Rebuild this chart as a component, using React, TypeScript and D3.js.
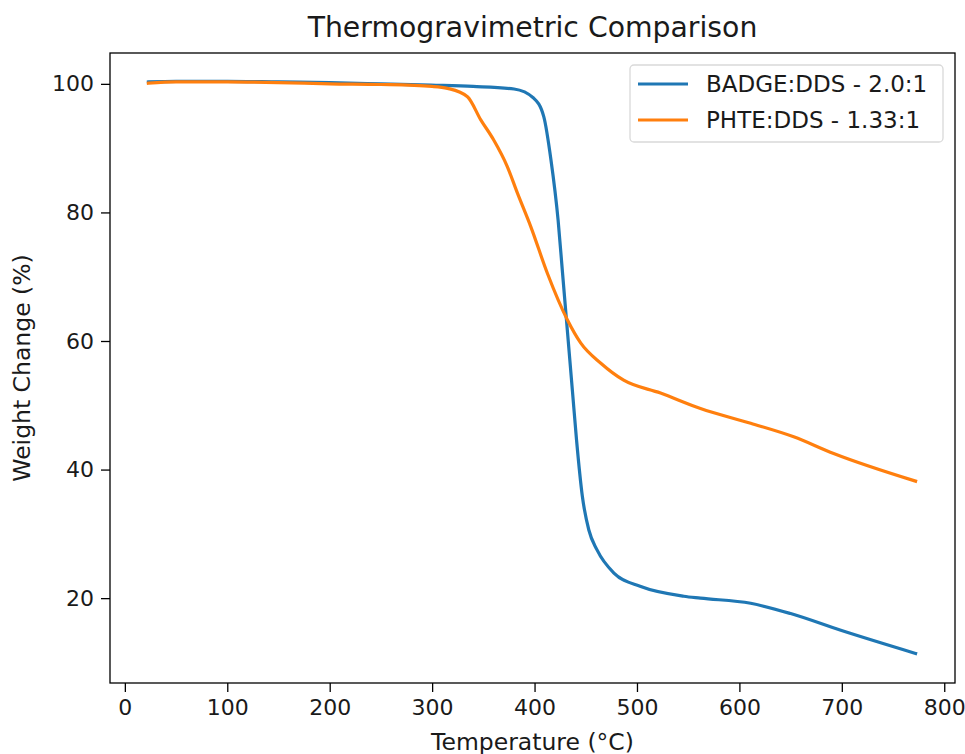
import React, { useRef, useEffect } from "react";
import * as d3 from "d3";

// temperatures (°C) and weight change (%)
const badgeTemp = [23, 50, 100, 150, 200, 250, 299, 340, 380, 399, 409, 416, 423, 427, 432, 437, 441, 446.7, 453, 461, 477.5, 503.7, 545.7, 562, 611, 650, 699, 772];
const badgeWeight = [100.3, 100.4, 100.4, 100.3, 100.2, 100.0, 99.8, 99.6, 99.2, 97.8, 94.9, 88.2, 78.8, 71.2, 61.7, 52.2, 44.6, 35.8, 30.6, 27.5, 23.9, 21.8, 20.3, 20.0, 19.2, 17.6, 15.0, 11.4];

const phteTemp = [23, 50, 100, 150, 200, 250, 300, 315, 334.5, 347.5, 360, 373.5, 383.3, 396.3, 412.6, 432, 445, 465, 487, 523, 562, 611, 653, 692, 772];
const phteWeight = [100.1, 100.3, 100.3, 100.2, 100.0, 99.9, 99.6, 99.3, 98.0, 94.4, 91.3, 87.1, 83.0, 77.8, 70.5, 63.3, 59.7, 56.5, 53.9, 51.9, 49.5, 47.2, 45.1, 42.5, 38.2];

const seriesNames = ["BADGE:DDS - 2.0:1", "PHTE:DDS - 1.33:1"];
const seriesColors = ["#1f77b4", "#ff7f0e"];
const xTicks = [0, 100, 200, 300, 400, 500, 600, 700, 800];
const yTicks = [20, 40, 60, 80, 100];

export default function App() {
  const svgRef = useRef<SVGSVGElement>(null);

  useEffect(() => {
    const w = 965;
    const h = 754;
    const m = { left: 110, right: 955, top: 53, bottom: 683 };
    const font = "DejaVu Sans, sans-serif";

    const svg = d3.select(svgRef.current).attr("width", w).attr("height", h);
    svg.selectAll("*").remove();
    svg.append("rect").attr("width", w).attr("height", h).attr("fill", "#fff");

    //scales
    const x = d3.scaleLinear().domain([-14.5, 810.5]).range([m.left, m.right]);
    const y = d3.scaleLinear().domain([6.8, 104.8]).range([m.bottom, m.top]);

    //axes
    const xAxis = d3.axisBottom(x).tickValues(xTicks).tickSize(9).tickPadding(7).tickFormat(d3.format("d"));
    const yAxis = d3.axisLeft(y).tickValues(yTicks).tickSize(9).tickPadding(7).tickFormat(d3.format("d"));

    const gx = svg.append("g").attr("transform", `translate(0, ${m.bottom})`).call(xAxis);
    const gy = svg.append("g").attr("transform", `translate(${m.left}, 0)`).call(yAxis);
    [gx, gy].forEach((g) => {
      g.select(".domain").remove();
      g.selectAll("line").attr("stroke", "#000").attr("stroke-width", 1.3);
      g.selectAll("text").attr("font-family", font).attr("font-size", 22).attr("fill", "#1a1a1a");
    });

    //lines
    const line = d3
      .line<[number, number]>()
      .x((d) => x(d[0]))
      .y((d) => y(d[1]))
      .curve(d3.curveMonotoneX);

    const series = [
      d3.zip(badgeTemp, badgeWeight) as [number, number][],
      d3.zip(phteTemp, phteWeight) as [number, number][],
    ];

    svg
      .selectAll(".series")
      .data(series)
      .join("path")
      .attr("class", "series")
      .attr("d", (d) => line(d))
      .attr("fill", "none")
      .attr("stroke", (d, i) => seriesColors[i])
      .attr("stroke-width", 3.2)
      .attr("stroke-linecap", "square");

    //frame
    svg
      .append("rect")
      .attr("x", m.left)
      .attr("y", m.top)
      .attr("width", m.right - m.left)
      .attr("height", m.bottom - m.top)
      .attr("fill", "none")
      .attr("stroke", "#000")
      .attr("stroke-width", 1.3);

    //legend
    const lg = svg.append("g");
    lg.append("rect")
      .attr("x", 630)
      .attr("y", 65)
      .attr("width", 313)
      .attr("height", 77)
      .attr("rx", 4)
      .attr("fill", "#fff")
      .attr("fill-opacity", 0.8)
      .attr("stroke", "#d9d9d9")
      .attr("stroke-width", 1.3);
    seriesNames.forEach((name, i) => {
      const ly = 84 + i * 36;
      lg.append("line")
        .attr("x1", 638)
        .attr("x2", 688)
        .attr("y1", ly)
        .attr("y2", ly)
        .attr("stroke", seriesColors[i])
        .attr("stroke-width", 3.2);
      lg.append("text")
        .attr("x", 706)
        .attr("y", ly)
        .attr("dy", "0.36em")
        .attr("font-family", font)
        .attr("font-size", 23)
        .attr("fill", "#1a1a1a")
        .text(name);
    });

    //titles
    svg
      .append("text")
      .attr("x", (m.left + m.right) / 2)
      .attr("y", 37)
      .attr("text-anchor", "middle")
      .attr("font-family", font)
      .attr("font-size", 28.3)
      .attr("fill", "#1a1a1a")
      .text("Thermogravimetric Comparison");

    svg
      .append("text")
      .attr("x", (m.left + m.right) / 2)
      .attr("y", 750)
      .attr("text-anchor", "middle")
      .attr("font-family", font)
      .attr("font-size", 23.5)
      .attr("fill", "#1a1a1a")
      .text("Temperature (°C)");

    svg
      .append("text")
      .attr("transform", `translate(30, ${(m.top + m.bottom) / 2}) rotate(-90)`)
      .attr("text-anchor", "middle")
      .attr("font-family", font)
      .attr("font-size", 23.5)
      .attr("fill", "#1a1a1a")
      .text("Weight Change (%)");
  }, []);

  return <svg ref={svgRef} style={{ position: "absolute", left: 0, top: 0 }}></svg>;
}
